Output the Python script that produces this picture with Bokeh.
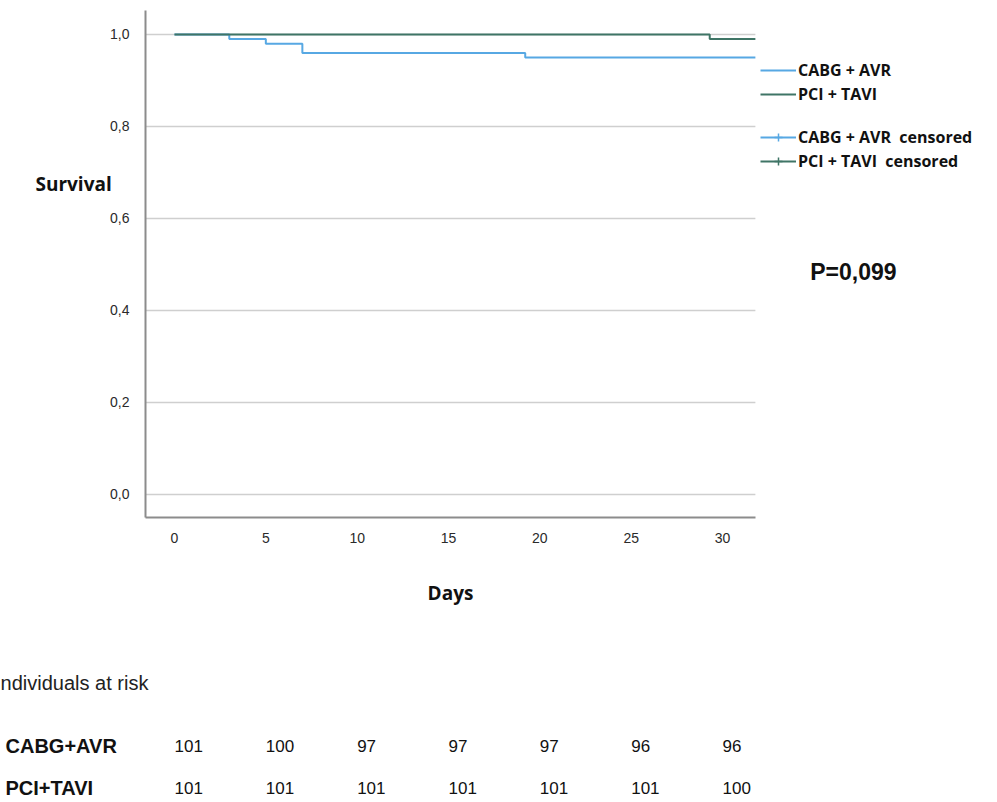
from bokeh.plotting import figure
from bokeh.models import (Range1d, FixedTicker, CustomJSTickFormatter, Label, Legend,
                          LegendItem, ColumnDataSource)
from bokeh.layouts import column
from bokeh.embed import file_html
from bokeh.resources import INLINE
from bokeh.core.properties import value

# ---------------- data ----------------
cabg_time = [0, 3, 5, 7, 19.2, 31.8]
cabg_surv = [1.0, 0.990, 0.980, 0.960, 0.950, 0.950]
pci_time = [0, 29.3, 31.8]
pci_surv = [1.0, 0.990, 0.990]
cabg_censor_time = [31.8]
cabg_censor_surv = [0.950]
pci_censor_time = [31.8]
pci_censor_surv = [0.990]

x_ticks = [0, 5, 10, 15, 20, 25, 30]
y_ticks = [0.0, 0.2, 0.4, 0.6, 0.8, 1.0]
x_bounds = (-1.59, 31.8)      # extent of the plotted axis (days)
y_bounds = (-0.05, 1.052)     # extent of the plotted axis (survival)

risk_days = [0, 5, 10, 15, 20, 25, 30]
risk_cabg = [101, 100, 97, 97, 97, 96, 96]
risk_pci = [101, 101, 101, 101, 101, 101, 100]
risk_groups = ["CABG+AVR", "PCI+TAVI"]
risk_title = "ndividuals at risk"

legend_labels = ["CABG + AVR", "PCI + TAVI", "CABG + AVR  censored", "PCI + TAVI  censored"]
p_text = "P=0,099"

BLUE = "#57a8e3"
GREEN = "#3f7566"
AX = "#8c8c8c"
GRID = "#cfcfcf"

X_RANGE = (-9.525, 45.054)

# ---------------- main plot ----------------
p = figure(width=997, height=613, output_backend="svg", toolbar_location=None,
           x_range=Range1d(*X_RANGE), y_range=Range1d(-0.2587, 1.0739),
           min_border_left=0, min_border_right=0, min_border_top=0, min_border_bottom=0)
p.outline_line_color = None
p.background_fill_color = "white"
p.border_fill_color = "white"
p.grid.visible = False

xa = p.xaxis[0]
ya = p.yaxis[0]
xa.fixed_location = y_bounds[0]
xa.bounds = x_bounds
ya.fixed_location = x_bounds[0]
ya.bounds = y_bounds
for ax in (xa, ya):
    ax.axis_line_color = AX
    ax.axis_line_width = 2
    ax.major_tick_in = 0
    ax.major_tick_out = 0
    ax.minor_tick_line_color = None
    ax.major_label_text_font = "Liberation Sans"
    ax.major_label_text_font_size = "14px"
    ax.major_label_text_color = "#2a2a2a"

xa.ticker = FixedTicker(ticks=x_ticks)
ya.ticker = FixedTicker(ticks=y_ticks)
ya.formatter = CustomJSTickFormatter(code="return tick.toFixed(1).replace('.', ',');")
xa.major_label_standoff = 16
ya.major_label_standoff = 16

xa.axis_label = "Days"
xa.axis_label_text_font = "Open Sans"
xa.axis_label_text_font_style = "bold"
xa.axis_label_text_font_size = "19px"
xa.axis_label_text_color = "#111111"
xa.axis_label_standoff = 33

# horizontal grid lines at the y ticks, spanning the axis extent
p.segment(x0=[x_bounds[0]] * len(y_ticks), x1=[x_bounds[1]] * len(y_ticks),
          y0=y_ticks, y1=y_ticks, line_color=GRID, line_width=1.5)

r_cabg = p.step(cabg_time, cabg_surv, mode="after", line_color=BLUE, line_width=2)
r_pci = p.step(pci_time, pci_surv, mode="after", line_color=GREEN, line_width=2)
r_cabg_c = p.scatter(cabg_censor_time, cabg_censor_surv, marker="cross", size=16,
                     line_color=BLUE, line_width=1.5)
r_pci_c = p.scatter(pci_censor_time, pci_censor_surv, marker="cross", size=16,
                    line_color=GREEN, line_width=1.5)
r_cabg_c.visible = False
r_pci_c.visible = False

leg_style = dict(padding=0, margin=0, border_line_alpha=0, background_fill_alpha=0,
                 glyph_width=36, glyph_height=20, label_standoff=2, spacing=2,
                 label_text_font="Open Sans", label_text_font_style="bold",
                 label_text_font_size="16px", label_text_color="#111111")
leg1 = Legend(items=[LegendItem(label=legend_labels[0], renderers=[r_cabg]),
                     LegendItem(label=legend_labels[1], renderers=[r_pci])],
              location=(760, 508), **leg_style)
leg2 = Legend(items=[LegendItem(label=legend_labels[2], renderers=[r_cabg, r_cabg_c]),
                     LegendItem(label=legend_labels[3], renderers=[r_pci, r_pci_c])],
              location=(760, 441), **leg_style)
p.add_layout(leg1)
p.add_layout(leg2)

p.add_layout(Label(x=-7.61, y=0.676, text="Survival", text_font="Open Sans",
                   text_font_style="bold", text_font_size="19px", text_color="#111111",
                   text_align="left", text_baseline="middle"))
p.add_layout(Label(x=34.8, y=0.483, text=p_text, text_font="Liberation Sans",
                   text_font_style="bold", text_font_size="23px", text_color="#111111",
                   text_align="left", text_baseline="middle"))

# ---------------- at-risk table ----------------
t = figure(width=997, height=189, output_backend="svg", toolbar_location=None,
           x_range=Range1d(*X_RANGE), y_range=Range1d(-0.357, 4.143),
           min_border_left=0, min_border_right=0, min_border_top=0, min_border_bottom=0)
t.axis.visible = False
t.grid.visible = False
t.outline_line_color = None

row_y = {"CABG+AVR": 1, "PCI+TAVI": 0}
num_src = ColumnDataSource(dict(
    x=risk_days + risk_days,
    y=[row_y[risk_groups[0]]] * len(risk_days) + [row_y[risk_groups[1]]] * len(risk_days),
    txt=[str(v) for v in risk_cabg] + [str(v) for v in risk_pci]))
t.text(x="x", y="y", text="txt", source=num_src, text_font=value("Liberation Sans"),
       text_font_size="17px", text_color="#111111", text_align="left",
       text_baseline="middle")
lab_src = ColumnDataSource(dict(x=[-9.25, -9.25], y=[row_y[g] for g in risk_groups],
                                txt=risk_groups))
t.text(x="x", y="y", text="txt", source=lab_src, text_font=value("Liberation Sans"),
       text_font_style="bold", text_font_size="20px", text_color="#111111",
       text_align="left", text_baseline="middle")
t.text(x=[-9.52], y=[2.5], text=[risk_title], text_font=value("Liberation Sans"),
       text_font_size="20px", text_color="#222222", text_align="left",
       text_baseline="middle")

layout = column(p, t, spacing=0)
open("out.html", "w").write(file_html(layout, INLINE))
